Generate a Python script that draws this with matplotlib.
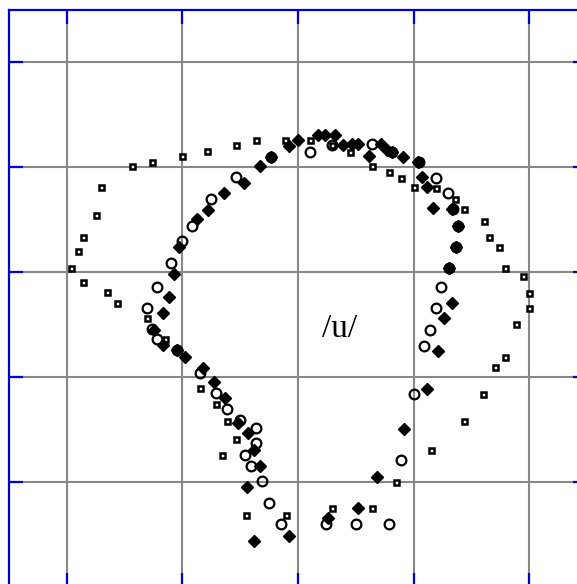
import matplotlib.pyplot as plt

# grid units: vertical grid lines at x = 1..5, horizontal at y = 1..5
sq_x = [2.55, 2.90, 2.34, 2.46, 2.39, 2.29, 2.15, 1.85, 1.69, 1.43, 1.35, 1.14, 1.04,
        1.10, 1.14, 1.25, 1.30, 1.56, 1.74, 2.00, 2.21, 2.46, 2.64, 2.89, 3.10, 3.29,
        3.45, 3.64, 3.79, 3.89, 4.00, 4.19, 4.36, 4.44, 4.61, 4.65, 4.74, 4.79, 4.95,
        5.00, 5.00, 4.89, 4.79, 4.70, 4.60, 4.44, 4.15, 3.85, 3.64, 3.29]
sq_y = [0.69, 0.69, 1.26, 1.41, 1.58, 1.74, 1.90, 2.36, 2.56, 2.71, 2.81, 2.91, 3.04,
        3.20, 3.34, 3.55, 3.81, 4.01, 4.05, 4.11, 4.16, 4.21, 4.26, 4.26, 4.26, 4.21,
        4.15, 4.01, 3.96, 3.90, 3.81, 3.80, 3.70, 3.60, 3.49, 3.34, 3.24, 3.04, 2.96,
        2.80, 2.66, 2.51, 2.19, 2.10, 1.84, 1.58, 1.31, 1.00, 0.75, 0.75]

circ_x = [2.46, 2.25, 2.08, 2.00, 1.90, 1.78, 1.69, 1.74, 1.78, 1.95, 2.15, 2.29, 2.39,
          2.50, 2.64, 2.64, 2.54, 2.59, 2.69, 2.75, 2.85, 3.24, 3.50, 3.79, 3.89, 4.00,
          4.09, 4.14, 4.19, 4.24, 4.31, 4.37, 4.38, 4.34, 4.30, 4.19, 4.05, 3.81, 3.64,
          3.29, 3.10, 2.77]
circ_y = [3.91, 3.70, 3.44, 3.30, 3.09, 2.86, 2.66, 2.46, 2.36, 2.26, 2.04, 1.85, 1.70,
          1.59, 1.52, 1.37, 1.26, 1.15, 1.01, 0.80, 0.60, 0.60, 0.60, 0.60, 1.21, 1.84,
          2.30, 2.45, 2.66, 2.86, 3.04, 3.24, 3.44, 3.60, 3.76, 3.90, 4.05, 4.15, 4.22,
          4.21, 4.15, 4.10]

dia_x = [2.67, 2.53, 2.36, 2.22, 2.13, 1.97, 1.93, 1.88, 1.83, 1.75, 1.83, 1.95, 2.02,
         2.18, 2.27, 2.37, 2.48, 2.57, 2.62, 2.67, 2.56, 2.62, 2.92, 3.26, 3.52, 3.68,
         3.92, 4.12, 4.21, 4.26, 4.33, 4.31, 4.37, 4.38, 4.33, 4.17, 4.12, 4.07, 4.04,
         3.91, 3.81, 3.77, 3.72, 3.61, 3.52, 3.47, 3.39, 3.32, 3.23, 3.17, 3.00, 2.92,
         2.77]
dia_y = [4.01, 3.85, 3.76, 3.59, 3.51, 3.24, 2.98, 2.76, 2.61, 2.45, 2.31, 2.26, 2.19,
         2.09, 1.95, 1.80, 1.56, 1.47, 1.31, 1.15, 0.95, 0.44, 0.49, 0.66, 0.75, 1.05,
         1.51, 1.89, 2.25, 2.56, 2.71, 3.04, 3.24, 3.44, 3.60, 3.61, 3.81, 3.91, 4.05,
         4.10, 4.15, 4.17, 4.22, 4.11, 4.22, 4.22, 4.21, 4.31, 4.31, 4.31, 4.26, 4.20,
         4.10]

grid_ticks = [1, 2, 3, 4, 5]
label = "/u/"

blue = "#0000d0"

fig = plt.figure(figsize=(5.77, 5.84), dpi=100)
ax = fig.add_axes([9 / 577, -3 / 584, 578 / 577, 577 / 584])

ax.plot(sq_x, sq_y, linestyle="none", marker="s", ms=3.6, mew=1.8,
        mec="black", mfc="white", zorder=3)
ax.plot(circ_x, circ_y, linestyle="none", marker="o", ms=7, mew=1.6,
        mec="black", mfc="none", zorder=4)
ax.plot(dia_x, dia_y, linestyle="none", marker="D", ms=6.2, mew=1,
        mec="black", mfc="black", zorder=5)

ax.text(3.36, 2.46, label, ha="center", va="center", fontsize=24,
        family="Liberation Serif", zorder=6)

ax.set_xlim(0.5, 5.5)
ax.set_ylim(0, 5.5)
ax.set_xticks(grid_ticks)
ax.set_yticks(grid_ticks)
ax.set_xticklabels([])
ax.set_yticklabels([])
ax.grid(True, color="#888888", linewidth=1.5)
ax.set_axisbelow(True)

ax.tick_params(axis="both", which="both", direction="in", length=10, width=1.6,
               color=blue, top=True, right=True, bottom=True, left=True)
for side in ["left", "top", "right", "bottom"]:
    ax.spines[side].set_color(blue)
    ax.spines[side].set_linewidth(1.6)

fig.savefig("out.png", dpi=100)
plt.close(fig)
